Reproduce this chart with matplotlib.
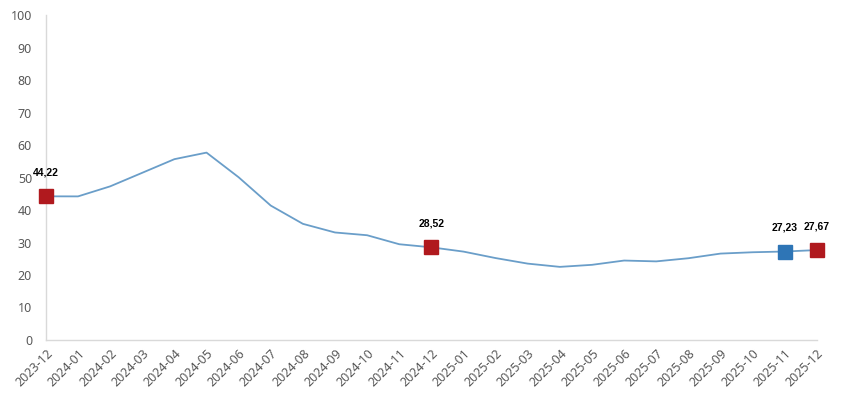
import numpy as np
import matplotlib
matplotlib.use("Agg")
import matplotlib.pyplot as plt

months = ["2023-12", "2024-01", "2024-02", "2024-03", "2024-04", "2024-05", "2024-06",
          "2024-07", "2024-08", "2024-09", "2024-10", "2024-11", "2024-12", "2025-01",
          "2025-02", "2025-03", "2025-04", "2025-05", "2025-06", "2025-07", "2025-08",
          "2025-09", "2025-10", "2025-11", "2025-12"]
values = [44.22, 44.20, 47.29, 51.47, 55.66, 57.68, 50.09, 41.37, 35.75, 33.09, 32.24,
          29.47, 28.52, 27.20, 25.21, 23.50, 22.50, 23.13, 24.45, 24.19, 25.16, 26.59,
          27.00, 27.23, 27.67]
red_marks = ["2023-12", "2024-12", "2025-12"]
blue_marks = ["2025-11"]

line_color = "#6a9ec9"
red = "#b0191e"
blue = "#2e75b6"

plt.rcParams["font.family"] = ["Noto Sans", "DejaVu Sans"]

fig = plt.figure(figsize=(8.5, 3.99), dpi=100)
ax = fig.add_axes([0.054, 0.148, 0.907, 0.814])

x = np.arange(len(months))
ax.plot(x, values, color=line_color, lw=1.3, zorder=2)

for m in red_marks + blue_marks:
    i = months.index(m)
    c = blue if m in blue_marks else red
    ax.plot(i, values[i], marker="s", ms=9.5, color=c, mec=c, zorder=3, clip_on=False)
    ax.annotate(f"{values[i]:.2f}".replace(".", ","), (i, values[i]),
                xytext=(0, 15), textcoords="offset points", ha="center",
                fontsize=7.5, fontweight="bold", color="black", family="Liberation Sans")

ax.set_xlim(0, len(months) - 1)
ax.set_ylim(0, 100)
ax.set_yticks(range(0, 101, 10))
ax.set_xticks(x)
ax.set_xticklabels(months, rotation=45, ha="right", rotation_mode="anchor")
ax.tick_params(length=0, labelsize=9, colors="#595959", pad=5)
ax.tick_params(axis="y", pad=10)

for s in ["top", "right"]:
    ax.spines[s].set_visible(False)
for s in ["left", "bottom"]:
    ax.spines[s].set_color("#d9d9d9")
    ax.spines[s].set_linewidth(1)

fig.savefig("out.png", dpi=100)
